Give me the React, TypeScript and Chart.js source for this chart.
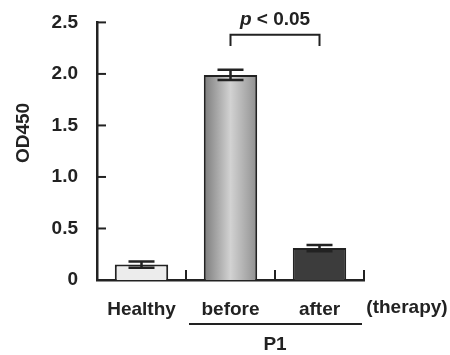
import React, { useEffect, useRef } from "react";
import { Chart, registerables } from "chart.js";

Chart.register(...registerables);

const categories = ["Healthy", "before", "after"];
const values = [0.15, 1.99, 0.31];
const errors = [0.03, 0.05, 0.03];
const yTicks = [0, 0.5, 1.0, 1.5, 2.0, 2.5];
const groupLabel = "P1";
const extraLabel = "(therapy)";
const sigText = "< 0.05";
const bracketTop = 2.38;
const bracketBottom = 2.27;
const sigY = 2.53;

const FONT = '"Liberation Sans", Arial, sans-serif';
const SIZE = 19;
const INK = "#222";

const fillFor = (ctx: any) => {
  const i = ctx.dataIndex;
  if (i === 0) return "#ececec";
  if (i === 2) return "#3c3c3c";
  const chart = ctx.chart;
  const xs = chart.scales.x;
  if (!xs) return "#b0b0b0";
  const cx = xs.getPixelForValue(i);
  const w = (xs.getPixelForValue(1) - xs.getPixelForValue(0)) * 0.6;
  const g = chart.ctx.createLinearGradient(cx - w / 2, 0, cx + w / 2, 0);
  g.addColorStop(0, "#7c7c7c");
  g.addColorStop(0.5, "#d2d2d2");
  g.addColorStop(1, "#909090");
  return g;
};

const decor = {
  id: "decor",
  afterDatasetsDraw(chart: any) {
    const { ctx, scales } = chart;
    const xs = scales.x;
    const ys = scales.y;
    ctx.save();
    ctx.strokeStyle = INK;
    ctx.lineWidth = 2.5;
    values.forEach((v, i) => {
      const cx = xs.getPixelForValue(i);
      const top = ys.getPixelForValue(v + errors[i]);
      const bot = ys.getPixelForValue(v - errors[i]);
      ctx.beginPath();
      ctx.moveTo(cx, top);
      ctx.lineTo(cx, bot);
      ctx.moveTo(cx - 13, top);
      ctx.lineTo(cx + 13, top);
      ctx.moveTo(cx - 13, bot);
      ctx.lineTo(cx + 13, bot);
      ctx.stroke();
    });
    ctx.restore();
  },
  afterDraw(chart: any) {
    const { ctx, scales, chartArea } = chart;
    const xs = scales.x;
    const ys = scales.y;
    ctx.save();
    ctx.strokeStyle = INK;
    ctx.fillStyle = INK;
    ctx.lineWidth = 2;
    yTicks.forEach((t) => {
      if (t === 0) return;
      const y = ys.getPixelForValue(t);
      ctx.beginPath();
      ctx.moveTo(chartArea.left, y);
      ctx.lineTo(chartArea.left + 9, y);
      ctx.stroke();
    });
    const step = xs.getPixelForValue(1) - xs.getPixelForValue(0);
    for (let i = 0; i < categories.length; i++) {
      const bx = xs.getPixelForValue(i) + step / 2;
      ctx.beginPath();
      ctx.moveTo(bx, chartArea.bottom);
      ctx.lineTo(bx, chartArea.bottom - 10);
      ctx.stroke();
    }
    const x1 = xs.getPixelForValue(1);
    const x2 = xs.getPixelForValue(2);
    const yt = ys.getPixelForValue(bracketTop);
    const yb = ys.getPixelForValue(bracketBottom);
    ctx.beginPath();
    ctx.moveTo(x1, yb);
    ctx.lineTo(x1, yt);
    ctx.lineTo(x2, yt);
    ctx.lineTo(x2, yb);
    ctx.stroke();
    const ty = ys.getPixelForValue(sigY);
    ctx.textBaseline = "middle";
    ctx.textAlign = "left";
    ctx.font = `italic bold ${SIZE}px ${FONT}`;
    const pw = ctx.measureText("p ").width;
    ctx.font = `bold ${SIZE}px ${FONT}`;
    const rw = ctx.measureText(sigText).width;
    const sx = (x1 + x2) / 2 - (pw + rw) / 2;
    ctx.font = `italic bold ${SIZE}px ${FONT}`;
    ctx.fillText("p ", sx, ty);
    ctx.font = `bold ${SIZE}px ${FONT}`;
    ctx.fillText(sigText, sx + pw, ty);
    ctx.textAlign = "center";
    ctx.fillText(extraLabel, chartArea.right + 43, chartArea.bottom + 28);
    const gl = xs.getPixelForValue(0) + step / 2 + 3;
    const gr = xs.getPixelForValue(2) + step / 2 - 2;
    ctx.lineWidth = 2;
    ctx.beginPath();
    ctx.moveTo(gl, chartArea.bottom + 44);
    ctx.lineTo(gr, chartArea.bottom + 44);
    ctx.stroke();
    ctx.fillText(groupLabel, (x1 + x2) / 2, chartArea.bottom + 65);
    ctx.translate(24, 133);
    ctx.rotate(-Math.PI / 2);
    ctx.fillText("OD450", 0, 0);
    ctx.restore();
  },
};

export default function App() {
  const ref = useRef<HTMLCanvasElement | null>(null);
  useEffect(() => {
    if (!ref.current) return;
    const chart = new Chart(ref.current, {
      type: "bar",
      data: {
        labels: categories,
        datasets: [
          {
            data: values,
            backgroundColor: fillFor as any,
            borderColor: INK,
            borderWidth: 2,
            borderSkipped: "bottom",
            barPercentage: 0.6,
            categoryPercentage: 1,
          },
        ],
      },
      options: {
        animation: false,
        responsive: false,
        layout: { padding: { left: 0, top: 20, right: 86, bottom: 0 } },
        plugins: { legend: { display: false }, tooltip: { enabled: false } },
        scales: {
          x: {
            type: "category",
            offset: true,
            grid: { display: false },
            border: { display: true, color: INK, width: 2.5 },
            ticks: {
              color: INK,
              padding: 10,
              maxRotation: 0,
              font: { family: FONT, size: SIZE, weight: "bold" },
            },
            afterFit: (s: any) => {
              s.height = 75;
            },
          },
          y: {
            min: 0,
            max: 2.5,
            grid: { display: false },
            border: { display: true, color: INK, width: 2.5 },
            afterBuildTicks: (s: any) => {
              s.ticks = yTicks.map((v) => ({ value: v }));
            },
            ticks: {
              color: INK,
              padding: 11,
              font: { family: FONT, size: SIZE, weight: "bold" },
              callback: (v: any) => (Number(v) === 0 ? "0" : Number(v).toFixed(1)),
            },
            afterFit: (s: any) => {
              s.width = 97;
            },
          },
        },
      },
      plugins: [decor],
    });
    return () => chart.destroy();
  }, []);
  return (
    <div style={{ position: "absolute", left: 0, top: 0, width: 450, height: 355, background: "#fff" }}>
      <canvas ref={ref} width={450} height={355} />
    </div>
  );
}
